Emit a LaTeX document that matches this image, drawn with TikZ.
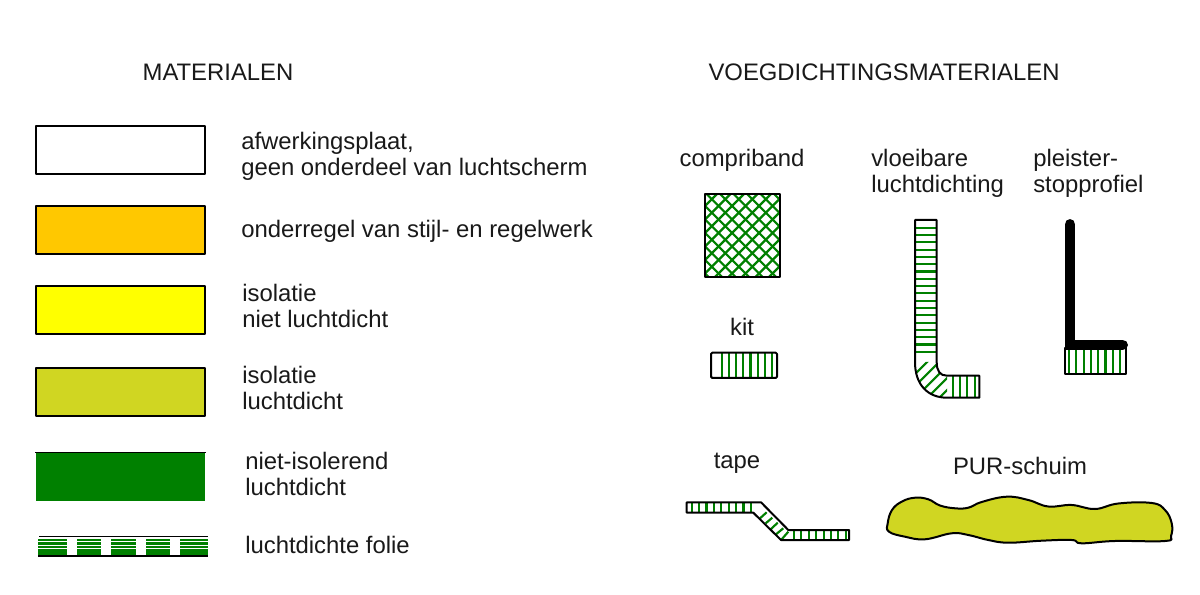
\documentclass[tikz,border=0pt]{standalone}
\usepackage{fontspec}
\setmainfont{Liberation Sans}
\definecolor{regelorange}{HTML}{FFC800}
\definecolor{isogeel}{HTML}{FFFF00}
\definecolor{isogroen}{HTML}{D0D622}
\definecolor{dichtgroen}{HTML}{008000}
\tikzset{
  label/.style={font=\fontsize{17.9}{19.5}\selectfont,align=left,anchor=west,text=black!90,inner sep=0pt},
  title/.style={label,align=center,anchor=center},
  swatch/.style={draw=black,line width=1.4pt,line join=round},
  outline/.style={draw=black,line width=1.5pt,line join=round},
  hatch/.style={draw=dichtgroen,line width=1.6pt}
}
\begin{document}
\begin{tikzpicture}[x=0.75pt,y=-0.75pt]
  \useasboundingbox (0,0) rectangle (1200,595);
  % koppen
  \node[title] (materialen) at (218,72) {MATERIALEN};
  \node[title] (voegdichting) at (884,72) {VOEGDICHTINGSMATERIALEN};
  % materialen
  \draw[swatch,fill=white] (36,126) rectangle (205,174);
  \draw[swatch,fill=regelorange] (36,206) rectangle (205,254);
  \draw[swatch,fill=isogeel] (36,286) rectangle (205,334);
  \draw[swatch,fill=isogroen] (36,368) rectangle (205,416);
  \fill[dichtgroen] (36,453) rectangle (205,500.5);
  \draw[line width=1.4pt] (35,452.5) -- (206,452.5);
  \node[label] (afwerking) at (241,156) {afwerkingsplaat,\\geen onderdeel van luchtscherm};
  \node[label] (onderregel) at (241,231) {onderregel van stijl- en regelwerk};
  \node[label] (isoopen) at (242,306) {isolatie\\niet luchtdicht};
  \node[label] (isodicht) at (242,388) {isolatie\\luchtdicht};
  \node[label] (nietiso) at (245,474) {niet-isolerend\\luchtdicht};
  \node[label] (folie) at (245,544.5) {luchtdichte folie};
  % folie
  \foreach \a/\b in {38/67,77/101,111/136,146/170,180/208}
    \foreach \y in {540,543.5,547,550.5,553.5}
      \draw[hatch,line width=1.7pt] (\a,\y) -- (\b,\y);
  \draw[line width=1.4pt] (39,536.5) -- (208,536.5);
  \draw[line width=1.4pt] (38,556) -- (208,556);
  % compriband
  \node[title] (compriband) at (742,160) {compriband};
  \begin{scope}
    \clip (705,194) rectangle (780,277);
    \foreach \s in {-8,-7,...,9} {
      \draw[hatch] ({744+\s*13.5},194) -- ++(-90,90);
      \draw[hatch] ({666+\s*13.5},194) -- ++(90,90);
    }
  \end{scope}
  \draw[outline] (705,194) rectangle (780,277);
  % kit
  \node[title] (kit) at (742,327) {kit};
  \foreach \x in {721.7,728.9,...,773}
    \draw[hatch] (\x,353) -- (\x,378);
  \draw[outline,rounded corners=1pt] (711,352.7) rectangle (777,378);
  % vloeibare luchtdichting
  \node[label] (vloeibaar) at (871,173) {vloeibare\\luchtdichting};
  \foreach \y in {227.7,235,...,359}
    \draw[hatch] (915,\y) -- (936.7,\y);
  \foreach \x in {952.7,960,967.3,975}
    \draw[hatch] (\x,376) -- (\x,397);
  \begin{scope}
    \clip (915,362) .. controls (915,385) and (928,397.7) .. (947,397.7) -- (947,375.7)
      .. controls (940,375.7) and (936.7,371) .. (936.7,362) -- cycle;
    \foreach \c in {1289,1301,1313,1325,1337}
      \draw[hatch] (\c-960,960) -- (960,\c-960);
  \end{scope}
  \draw[outline] (915,220) -- (936.7,220) -- (936.7,362)
    .. controls (936.7,371) and (940,375.7) .. (947,375.7) -- (979.3,375.7)
    -- (979.3,397.7) -- (947,397.7)
    .. controls (928,397.7) and (915,385) .. (915,362) -- cycle;
  % pleisterstopprofiel
  \node[label] (pleister) at (1033,173) {pleister-\\stopprofiel};
  \foreach \x in {1069,1076.3,...,1121}
    \draw[hatch] (\x,348) -- (\x,374);
  \draw[outline] (1065,348) rectangle (1126,374);
  \draw[line width=8.2pt,line cap=round,line join=miter] (1070,224.5) -- (1070,345) -- (1122.5,345);
  % tape
  \node[title] (tape) at (737,463) {tape};
  \foreach \x in {691.7,699.1,...,752}
    \draw[hatch] (\x,503) -- (\x,512);
  \foreach \x in {794,801.4,...,847}
    \draw[hatch] (\x,530) -- (\x,540);
  \foreach \a/\b/\c/\d in {760/518.3/766.7/512.3,765.7/523.3/772.3/517.7,771/529/777.7/522.7,776/534.3/783.3/528.3,781.7/539.3/788.3/531.7}
    \draw[hatch] (\a,\b) -- (\c,\d);
  \draw[outline] (686.7,502.3) -- (761,502.3) -- (788.3,530) -- (849,530) -- (849,540)
    -- (781,540) -- (753.3,512.7) -- (686.7,512.7) -- cycle;
  % PUR-schuim
  \node[title] (pur) at (1020,466) {PUR-schuim};
  \draw[outline,fill=isogroen] plot[smooth cycle,tension=0.7] coordinates {
    (887.7,523.3) (892,510) (902,501.5) (915,497.7) (928.3,499.3) (940,505.5)
    (955,508.3) (968.3,507.7) (981.7,502) (1006.7,496.7) (1028.3,500) (1048.3,506.5)
    (1071.7,505) (1095,509) (1118.3,503.5) (1151.7,503) (1165,510) (1171.7,523.3)
    (1171,536) (1165,541) (1115,541) (1081.7,543.3) (1071.7,540) (1041.7,540.7)
    (1008.3,542.7) (988.3,540) (968.3,535) (951.7,533.3) (925,539.3) (905,536.7) (889,531.7)};
\end{tikzpicture}
\end{document}
